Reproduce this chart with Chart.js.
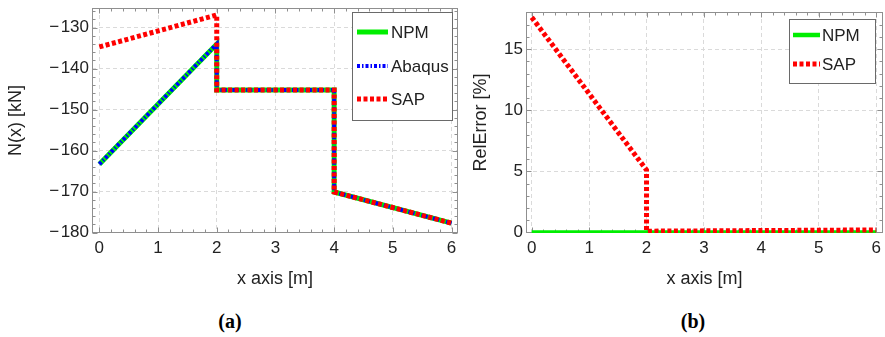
<!DOCTYPE html>
<html><head><meta charset="utf-8">
<script src="https://cdn.jsdelivr.net/npm/chart.js@4.4.1/dist/chart.umd.min.js"></script>
<style>
html,body{margin:0;padding:0;background:#fff;width:885px;height:337px;overflow:hidden}
canvas{position:absolute;top:0}
#ca{left:0}
#cb{left:470px}
.cap{position:absolute;top:309px;width:60px;text-align:center;font:bold 20px "Liberation Serif","DejaVu Serif",serif;color:#000;line-height:24px}
</style></head><body>
<canvas id="ca" width="470" height="300"></canvas>
<canvas id="cb" width="415" height="300"></canvas>
<div class="cap" style="left:200px">(a)</div>
<div class="cap" style="left:663px">(b)</div>
<script>
// ---- data (a): axial force N(x) [kN]
const posX = [0, 2, 2, 4, 4, 6];
const npmN = [-163.3, -134.0, -145.2, -145.2, -170.1, -177.7];
const abaqusN = [-163.3, -134.0, -145.2, -145.2, -170.1, -177.7];
const sapN = [-134.7, -126.9, -145.2, -145.2, -170.1, -177.7];
// ---- data (b): relative error [%]
const npmErrX = [0, 6];
const npmErr = [0, 0];
const sapErrX = [0, 2, 2, 6];
const sapErr = [17.6, 5.1, 0.1, 0.2];
// ---- tick labels
const xTicks = [0, 1, 2, 3, 4, 5, 6];
const yTicksA = [-180, -170, -160, -150, -140, -130];
const yTicksB = [0, 5, 10, 15];

const FONT = '"Liberation Sans", Arial, sans-serif';
const TXT = '#222';
const GREEN = '#00ee00', BLUE = '#0000ff', RED = '#ff0000';

const pts = (xs, ys) => xs.map((x, i) => ({x, y: ys[i]}));
const fmt = v => (v < 0 ? '\u2212\u200A' + Math.abs(v) : String(v));

function framePlugin(minX, minY) {
  return {
    id: 'frameTicks',
    beforeDatasetsDraw(chart) {
      const {ctx, chartArea: a, scales: {x, y}} = chart;
      ctx.save();
      ctx.strokeStyle = '#8f8f8f';
      ctx.lineWidth = 1;
      ctx.beginPath();
      const L = Math.round(a.left) + 0.5, R = Math.round(a.right) - 0.5;
      const T = Math.round(a.top) + 0.5, B = Math.round(a.bottom) - 0.5;
      for (let k = Math.ceil(x.min / minX.step); k * minX.step <= x.max + 1e-9; k++) {
        const v = k * minX.step;
        const major = Math.abs(v / minX.major - Math.round(v / minX.major)) < 1e-6;
        const len = major ? 5 : 3;
        const px = Math.round(x.getPixelForValue(v)) + 0.5;
        ctx.moveTo(px, B); ctx.lineTo(px, B - len);
        ctx.moveTo(px, T); ctx.lineTo(px, T + len);
      }
      for (let k = Math.ceil(y.min / minY.step); k * minY.step <= y.max + 1e-9; k++) {
        const v = k * minY.step;
        const major = Math.abs(v / minY.major - Math.round(v / minY.major)) < 1e-6;
        const len = major ? 5 : 3;
        const py = Math.round(y.getPixelForValue(v)) + 0.5;
        ctx.moveTo(L, py); ctx.lineTo(L + len, py);
        ctx.moveTo(R, py); ctx.lineTo(R - len, py);
      }
      ctx.stroke();
      ctx.strokeRect(L, T, R - L, B - T);
      ctx.restore();
    }
  };
}

function legendPlugin(box, entries) {
  return {
    id: 'boxLegend',
    afterDraw(chart) {
      const ctx = chart.ctx;
      ctx.save();
      ctx.fillStyle = '#fff';
      ctx.fillRect(box.x, box.y, box.w, box.h);
      ctx.strokeStyle = '#6a6a6a';
      ctx.lineWidth = 1;
      ctx.strokeRect(box.x + 0.5, box.y + 0.5, box.w, box.h);
      entries.forEach(e => {
        const ds = chart.data.datasets[e.ds];
        ctx.beginPath();
        ctx.strokeStyle = ds.borderColor;
        ctx.lineWidth = ds.borderWidth;
        ctx.setLineDash(ds.borderDash || []);
        ctx.moveTo(box.sx0, e.y); ctx.lineTo(box.sx1, e.y);
        ctx.stroke();
        ctx.setLineDash([]);
        ctx.fillStyle = TXT;
        ctx.font = '17px ' + FONT;
        ctx.textBaseline = 'middle';
        ctx.textAlign = 'left';
        ctx.fillText(ds.label, box.tx, e.y + 1);
      });
      ctx.restore();
    }
  };
}

function makeScale(min, max, ticks, size, title, titlePad, isX) {
  return {
    type: 'linear', min, max,
    afterBuildTicks: s => { s.ticks = ticks.map(v => ({value: v})); },
    afterFit: s => {
      if (isX) s.height = size; else s.width = size;
      s.paddingLeft = s.paddingRight = s.paddingTop = s.paddingBottom = 0;
    },
    grid: {color: '#dadada', lineWidth: 1, drawTicks: false, borderDash: [4, 3]},
    border: {display: false, dash: [4, 3]},
    ticks: {padding: isX ? 5 : 3, color: TXT, font: {family: FONT, size: 17}, callback: v => fmt(v)},
    title: {display: true, text: title, color: TXT, font: {family: FONT, size: 18}, padding: titlePad}
  };
}

function line(label, data, color, width, dash, order) {
  return {label, data, borderColor: color, backgroundColor: color, borderWidth: width,
    borderDash: dash, pointRadius: 0, pointHoverRadius: 0, tension: 0, fill: false,
    borderCapStyle: 'butt', borderJoinStyle: 'miter', order};
}

const common = {
  responsive: false, animation: false, events: [],
  plugins: {legend: {display: false}, tooltip: {enabled: false}}
};

new Chart(document.getElementById('ca'), {
  type: 'line',
  data: {datasets: [
    line('NPM', pts(posX, npmN), GREEN, 5, [], 3),
    line('Abaqus', pts(posX, abaqusN), BLUE, 4, [3, 2, 1.5, 2], 2),
    line('SAP', pts(posX, sapN), RED, 5, [4, 2.5], 1)
  ]},
  options: Object.assign({}, common, {
    layout: {padding: {left: 0, top: 8, right: 12, bottom: 0}},
    scales: {
      x: makeScale(-0.125, 6.11, xTicks, 67, 'x axis [m]', {top: 0, bottom: 10}, true),
      y: makeScale(-180.1, -125.2, yTicksA, 92, 'N(x) [kN]', {top: 5, bottom: 0}, false)
    }
  }),
  plugins: [
    framePlugin({step: 0.2, major: 1}, {step: 2, major: 10}),
    legendPlugin({x: 352, y: 12, w: 100, h: 108, sx0: 357, sx1: 388, tx: 391},
      [{ds: 0, y: 32}, {ds: 1, y: 66}, {ds: 2, y: 99}])
  ]
});

new Chart(document.getElementById('cb'), {
  type: 'line',
  data: {datasets: [
    line('NPM', pts(npmErrX, npmErr), GREEN, 4.5, [], 2),
    line('SAP', pts(sapErrX, sapErr), RED, 5, [4, 2.5], 1)
  ]},
  options: Object.assign({}, common, {
    layout: {padding: {left: 0, top: 12, right: 2, bottom: 0}},
    scales: {
      x: makeScale(-0.1, 6.12, xTicks, 67, 'x axis [m]', {top: 0, bottom: 10}, true),
      y: makeScale(-0.05, 18.04, yTicksB, 56, 'RelError [%]', {top: 0, bottom: 0}, false)
    }
  }),
  plugins: [
    framePlugin({step: 0.2, major: 1}, {step: 1, major: 5}),
    legendPlugin({x: 319, y: 19, w: 86, h: 64, sx0: 323, sx1: 350, tx: 352},
      [{ds: 0, y: 35}, {ds: 1, y: 64}])
  ]
});
</script>
</body></html>
